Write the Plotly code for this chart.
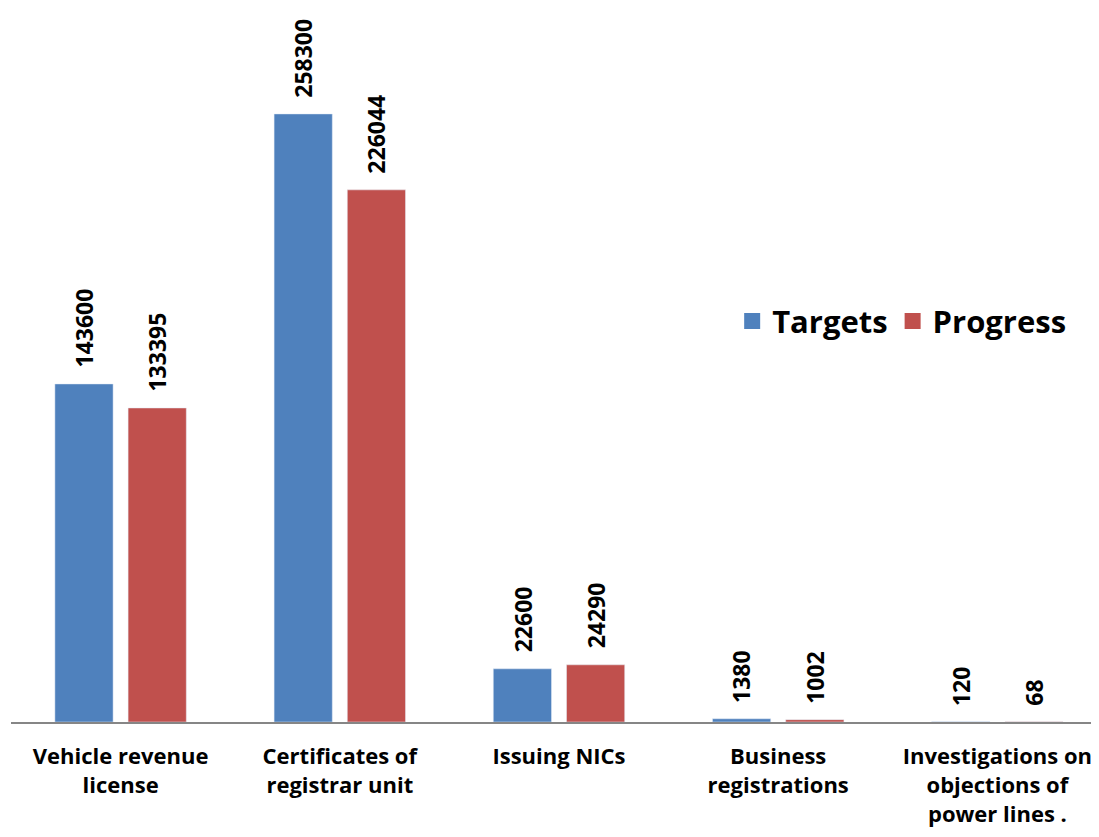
import plotly.graph_objects as go

categories = ["Vehicle revenue<br>license", "Certificates of<br>registrar unit", "Issuing NICs",
              "Business<br>registrations", "Investigations on<br>objections of<br>power lines ."]
targets = [143600, 258300, 22600, 1380, 120]
progress = [133395, 226044, 24290, 1002, 68]
series_names = ["Targets", "Progress"]
label_texts_t = [str(v) for v in targets]
label_texts_p = [str(v) for v in progress]

BLUE = "#4F81BD"
RED = "#C0504D"
FONT = "Open Sans"

fig = go.Figure()
fig.add_trace(go.Bar(x=categories, y=targets, name=series_names[0], marker_color=BLUE,
                     showlegend=False, legendgroup="t"))
fig.add_trace(go.Bar(x=categories, y=progress, name=series_names[1], marker_color=RED,
                     showlegend=False, legendgroup="p"))
# legend entries with larger square swatches
for nm, col, grp in ((series_names[0], BLUE, "t"), (series_names[1], RED, "p")):
    fig.add_trace(go.Scatter(x=[None], y=[None], mode="markers", name=nm, legendgroup=grp,
                             marker=dict(symbol="square", size=21, color=col), showlegend=True))

annotations = []
for cat, vt, vp, tt, tp in zip(categories, targets, progress, label_texts_t, label_texts_p):
    for v, t, shift in ((vt, tt, -36.5), (vp, tp, 36.5)):
        annotations.append(dict(x=cat, y=v, xref="x", yref="y", text=t, textangle=-90,
                                showarrow=False, xshift=shift, yshift=14, yanchor="bottom",
                                xanchor="center",
                                font=dict(family=FONT, size=23, color="black", weight="bold")))

fig.update_layout(
    width=1099, height=837,
    margin=dict(l=3, r=0, t=0, b=123),
    plot_bgcolor="white", paper_bgcolor="white",
    barmode="group", bargap=0.332, bargroupgap=0.205,
    font=dict(family=FONT, color="black"),
    showlegend=True,
    legend=dict(orientation="h", x=0.658, xanchor="left", y=0.561, yanchor="middle",
                font=dict(family=FONT, size=31, color="black", weight="bold"),
                itemsizing="trace", bgcolor="rgba(0,0,0,0)"),
    annotations=annotations,
)
fig.update_xaxes(showline=True, linecolor="#868686", linewidth=2, ticks="",
                 tickfont=dict(family=FONT, size=22, color="black", weight="bold"),
                 ticklabelstandoff=14, showgrid=False)
fig.update_yaxes(range=[0, 303300], visible=False, showgrid=False, zeroline=False)

fig.write_html("out.html")
